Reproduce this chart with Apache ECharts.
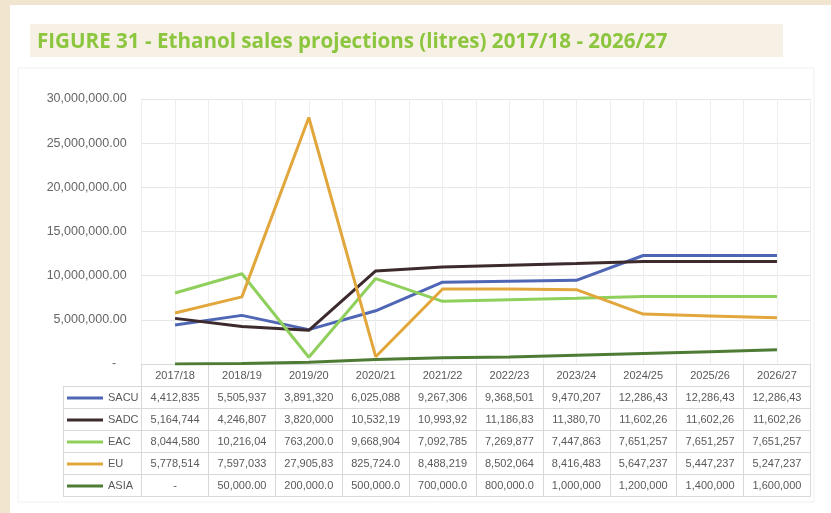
<!DOCTYPE html>
<html>
<head>
<meta charset="utf-8">
<script src="https://cdn.jsdelivr.net/npm/echarts@6/dist/echarts.min.js"></script>
<style>
html,body{margin:0;padding:0;background:#f2e5cf;}
#c{width:831px;height:513px;}
</style>
</head>
<body>
<div id="c"></div>
<script>
const categories = ['2017/18','2018/19','2019/20','2020/21','2021/22','2022/23','2023/24','2024/25','2025/26','2026/27'];
const seriesNames = ['SACU','SADC','EAC','EU','ASIA'];
const sacu = [4412835, 5505937, 3891320, 6025088, 9267306, 9368501, 9470207, 12286430, 12286430, 12286430];
const sadc = [5164744, 4246807, 3820000, 10532190, 10993920, 11186830, 11380700, 11602260, 11602260, 11602260];
const eac  = [8044580, 10216040, 763200, 9668904, 7092785, 7269877, 7447863, 7651257, 7651257, 7651257];
const eu   = [5778514, 7597033, 27905830, 825724, 8488219, 8502064, 8416483, 5647237, 5447237, 5247237];
const asia = [0, 50000, 200000, 500000, 700000, 800000, 1000000, 1200000, 1400000, 1600000];
const yMin = 0, yMax = 30000000, yStep = 5000000;

const colors = ['#4f66b5', '#3c2a2d', '#8fcf5b', '#e2a73c', '#4e7c34'];
const allSeries = [sacu, sadc, eac, eu, asia];

// layout
const G = {left: 141.6, right: 20.6, top: 99, bottom: 149};
const W = 831, H = 513;
const axisY = H - G.bottom;
const rowH = 22;
const tableLeft = 63;
const tableRight = W - G.right;
const FONT = '"Liberation Sans", Arial, sans-serif';

function fmt(v) {
  if (v === 0) return '-';
  return v.toLocaleString('en-US', {minimumFractionDigits: 2, maximumFractionDigits: 2}).slice(0, 9);
}

// half-category slots for the faint vertical gridlines
const halfSlots = [];
categories.forEach(c => { halfSlots.push(c + 'a'); halfSlots.push(c + 'b'); });

const chart = echarts.init(document.getElementById('c'), null, {renderer: 'canvas'});

const graphics = [
  {type: 'rect', z: -20, shape: {x: 10, y: 5, width: W - 10, height: H - 5}, style: {fill: '#ffffff'}},
  {type: 'rect', z: -19, shape: {x: 18, y: 68, width: 796, height: 434}, style: {fill: '#ffffff', stroke: '#f0f0f0', lineWidth: 1}},
  {type: 'rect', z: -18, shape: {x: 30, y: 24, width: 753, height: 33}, style: {fill: '#f7f0e4'}},
  {type: 'text', z: 10, x: 37, y: 42, style: {text: 'FIGURE 31 - Ethanol sales projections (litres) 2017/18 - 2026/27', fill: '#8cc63f', font: 'bold 20.6px "Open Sans", "Liberation Sans", Arial, sans-serif', verticalAlign: 'middle', align: 'left'}}
];
for (let i = 0; i <= seriesNames.length; i++) {
  const y = Math.round(axisY + rowH * (i + 1)) + 0.5;
  graphics.push({type: 'line', z: -5, shape: {x1: tableLeft, y1: y, x2: tableRight, y2: y}, style: {stroke: '#d9d9d9', lineWidth: 1}});
}
graphics.push({type: 'line', z: -5, shape: {x1: tableLeft + 0.5, y1: axisY + rowH, x2: tableLeft + 0.5, y2: axisY + rowH * (seriesNames.length + 1) + 1}, style: {stroke: '#d9d9d9', lineWidth: 1}});

const option = {
  backgroundColor: '#f2e5cf',
  animation: false,
  color: colors,
  graphic: graphics,
  legend: {
    orient: 'vertical',
    left: 67,
    top: axisY + 1 + rowH,
    itemGap: 0,
    itemWidth: 36,
    itemHeight: 3,
    icon: 'rect',
    padding: 0,
    data: seriesNames,
    selectedMode: false,
    textStyle: {color: '#595959', fontSize: 11, lineHeight: rowH, fontFamily: FONT}
  },
  grid: {left: G.left, right: G.right, top: G.top, bottom: G.bottom, containLabel: false},
  xAxis: [{
    type: 'category',
    data: categories,
    boundaryGap: true,
    axisLine: {show: true, lineStyle: {color: '#d9d9d9', width: 1}},
    axisTick: {show: true, length: rowH * (seriesNames.length + 1) + 1, lineStyle: {color: '#d9d9d9'}},
    splitLine: {show: false},
    axisLabel: {
      interval: 0,
      margin: 1,
      color: '#595959',
      fontSize: 11,
      lineHeight: rowH,
      fontFamily: FONT,
      formatter: function (value, idx) {
        const lines = [value];
        allSeries.forEach(s => lines.push(fmt(s[idx])));
        return lines.join('\n');
      }
    }
  }, {
    type: 'category',
    data: halfSlots,
    boundaryGap: true,
    position: 'top',
    axisLine: {show: false},
    axisTick: {show: false},
    axisLabel: {show: false},
    splitLine: {show: true, interval: 0, lineStyle: {color: '#eeeeee', width: 1}}
  }],
  yAxis: {
    type: 'value',
    min: yMin,
    max: yMax,
    interval: yStep,
    axisLine: {show: false},
    axisTick: {show: false},
    splitLine: {show: true, lineStyle: {color: '#e6e6e6', width: 1}},
    axisLabel: {
      margin: 15,
      color: '#666666',
      fontSize: 12.5,
      fontFamily: FONT,
      formatter: function (v) {
        if (v === 0) return '-   ';
        return v.toLocaleString('en-US', {minimumFractionDigits: 2, maximumFractionDigits: 2});
      }
    }
  },
  series: seriesNames.map((name, i) => ({
    name: name,
    type: 'line',
    xAxisIndex: 0,
    data: allSeries[i],
    symbol: 'none',
    showSymbol: false,
    lineStyle: {width: 3, color: colors[i]},
    itemStyle: {color: colors[i]},
    z: 2 + i
  }))
};
chart.setOption(option);
</script>
</body>
</html>
